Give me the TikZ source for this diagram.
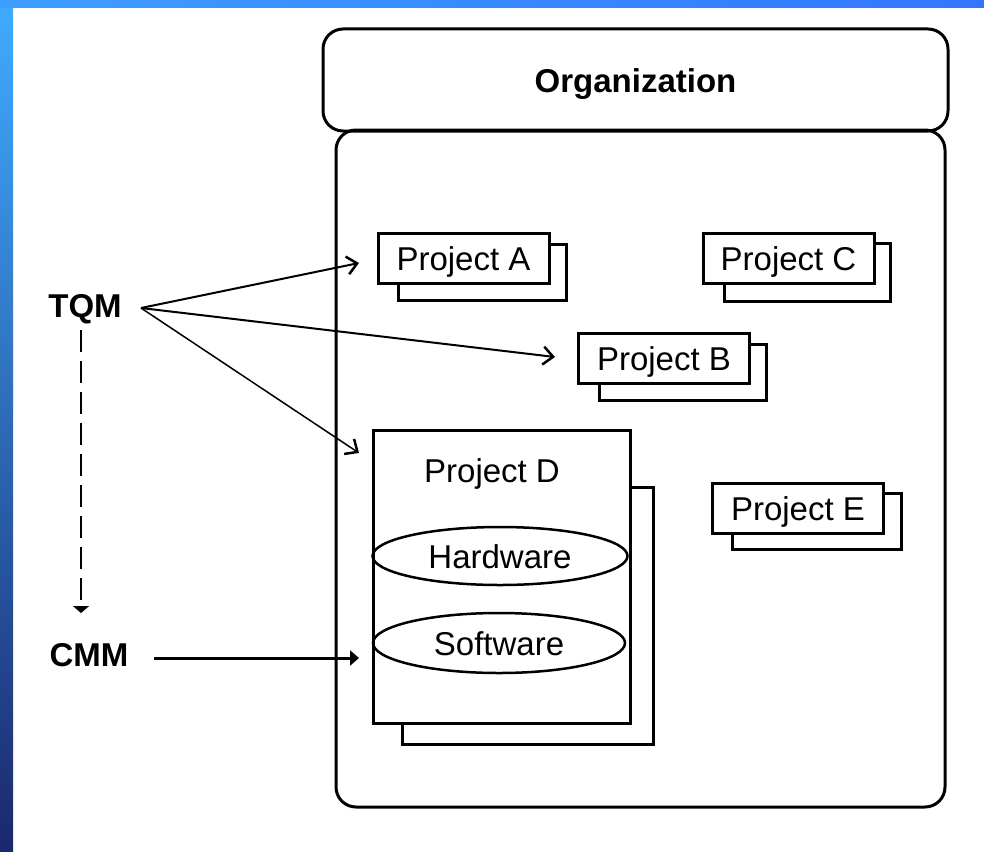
\documentclass[tikz,border=0pt]{standalone}
\usepackage{fontspec}
\setmainfont{Liberation Sans}
\usetikzlibrary{arrows.meta,shapes.geometric,calc,backgrounds}
\definecolor{bandA}{RGB}{64,172,255}
\definecolor{bandB}{RGB}{36,92,196}
\definecolor{bandC}{RGB}{26,40,110}
\definecolor{topL}{RGB}{62,158,255}
\definecolor{topR}{RGB}{50,118,255}
\begin{document}
\begin{tikzpicture}[x=1pt,y=-1pt,
  lbl/.style={inner sep=0pt, text height=24pt, text depth=0pt, font=\fontsize{33}{40}\selectfont},
  blbl/.style={inner sep=0pt, text height=24pt, text depth=0pt, font=\fontsize{33}{40}\selectfont\bfseries},
  projbox/.style={draw, line width=3pt, fill=white, minimum width=171pt, minimum height=50pt, inner sep=0pt, text height=24pt, text depth=0pt, font=\fontsize{33}{40}\selectfont},
  backbox/.style={draw, line width=3pt, fill=white},
  bigbox/.style={draw, line width=3pt, rounded corners=20pt},
  part/.style={draw, ellipse, line width=2.5pt, inner sep=0pt, text height=24pt, text depth=0pt, font=\fontsize{33}{40}\selectfont},
  arr/.style={line width=2pt, -{Straight Barb[length=10pt,width=18pt,line width=2.5pt]}},
  dasharr/.style={line width=2pt, dash pattern=on 22pt off 9pt, -{Triangle[length=7pt,width=16pt]}},
  solidarr/.style={line width=3pt, -{Triangle[length=9pt,width=15pt]}}
]
\useasboundingbox (0,0) rectangle (984,851);
\begin{scope}[on background layer]
  \fill[white] (0,0) rectangle (984,851);
  \shade[top color=bandA, middle color=bandB, bottom color=bandC] (0,0) rectangle (13,851);
  \shade[left color=topL, right color=topR] (0,0) rectangle (984,8);
\end{scope}

% organization
\node[bigbox, minimum width=609pt, minimum height=677pt] (body) at (640.5,468.5) {};
\node[bigbox, minimum width=625pt, minimum height=102pt, blbl] (org) at (635.5,80) {Organization};

% projects
\node[projbox] (A) at (463.5,258) {Project A};
\node[projbox] (C) at (788.5,258) {Project C};
\node[projbox] (B) at (664,358) {Project B};
\node[projbox] (E) at (798,508) {Project E};
\node[draw, line width=3pt, fill=white, minimum width=257pt, minimum height=293pt] (D) at (501.5,576.5) {};
\node[lbl] (Dt) at (492,470) {Project D};
\node[part, minimum width=255pt, minimum height=58pt] (hw) at (500,556) {Hardware};
\node[part, minimum width=252pt, minimum height=60pt] (sw) at (499,643) {Software};

\begin{scope}[on background layer]
  \draw[backbox] ($(A.north west)+(22,13)$) rectangle ($(A.south east)+(16,16)$);
  \draw[backbox] ($(C.north west)+(23,12)$) rectangle ($(C.south east)+(15,17)$);
  \draw[backbox] ($(B.north west)+(22,13)$) rectangle ($(B.south east)+(15,16)$);
  \draw[backbox] ($(E.north west)+(21,12)$) rectangle ($(E.south east)+(16,15)$);
  \draw[backbox] ($(D.north west)+(31,59)$) rectangle ($(D.south east)+(22,20)$);
\end{scope}

% TQM / CMM
\node[blbl] (tqm) at (85,305) {TQM};
\node[blbl] (cmm) at (89,654) {CMM};

\coordinate (fan) at (141,308);
\coordinate (toA) at (359,263);
\coordinate (toB) at (555,357);
\coordinate (toD) at (359,453);
\coordinate (dashS) at (81,330);
\coordinate (dashE) at (81,613);
\coordinate (cmmS) at (154,658);
\coordinate (toDs) at (359,658);

\draw[arr] (fan) -- (toA);
\draw[arr] (fan) -- (toB);
\draw[arr, line width=1.5pt] (fan) -- (toD);
\draw[dasharr] (dashS) -- (dashE);
\draw[solidarr] (cmmS) -- (toDs);
\end{tikzpicture}
\end{document}
